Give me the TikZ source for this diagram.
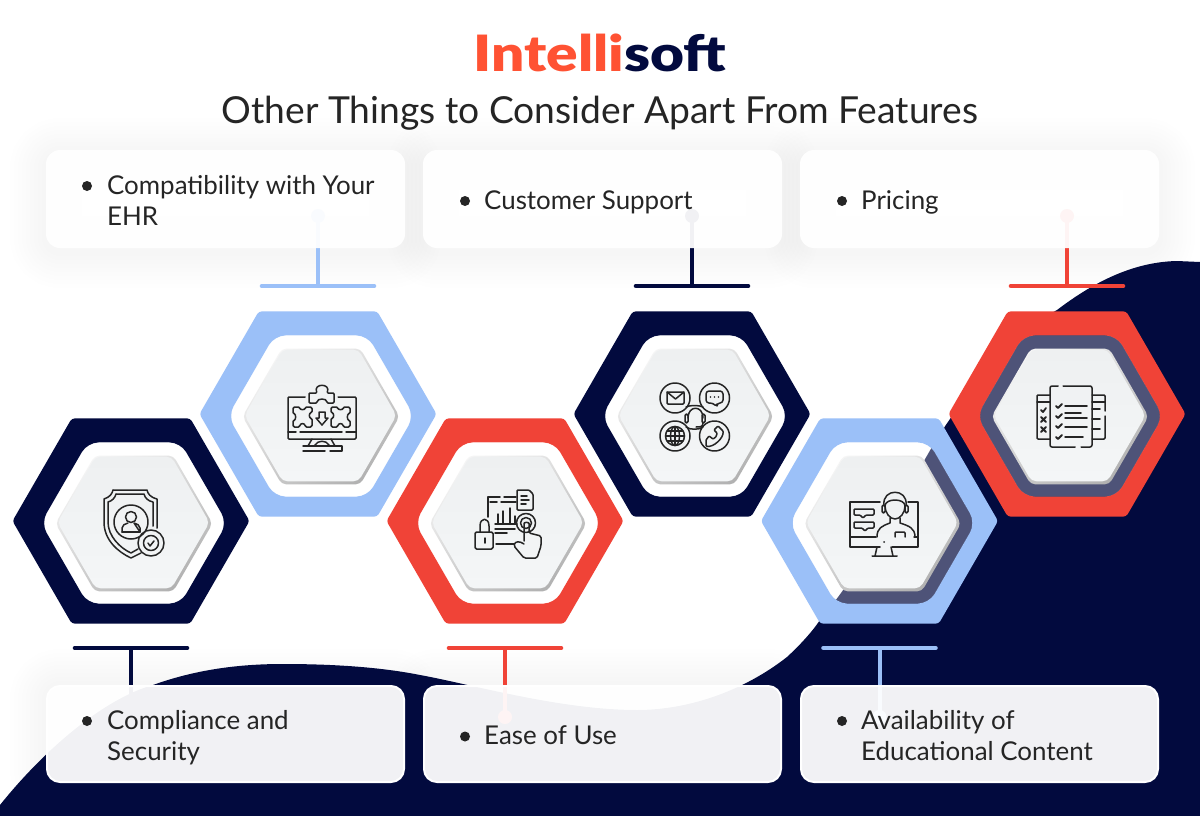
\documentclass[tikz,border=0pt]{standalone}
\usepackage{xcolor}
\usepackage{fontspec}
\setmainfont{Lato}
\newfontfamily\logofont{Lato Black}

\definecolor{inknavy}{HTML}{020A3E}
\definecolor{skyblue}{HTML}{9BC0F8}
\definecolor{hexred}{HTML}{F04337}
\definecolor{logored}{HTML}{FF5233}
\definecolor{inktext}{HTML}{252525}
\definecolor{facetop}{HTML}{EEF0F1}
\definecolor{facelow}{HTML}{F4F6F7}

\newcommand{\hexpath}[3]{({#1+#3},#2) -- ({#1+#3/2},{#2-#3*0.866}) -- ({#1-#3/2},{#2-#3*0.866}) -- ({#1-#3},#2) -- ({#1-#3/2},{#2+#3*0.866}) -- ({#1+#3/2},{#2+#3*0.866}) -- cycle}

\tikzset{
    topbox/.style={minimum width=359pt, minimum height=98pt, inner sep=0pt, rounded corners=14pt, fill=white, fill opacity=0.945},
    lowbox/.style={minimum width=357pt, minimum height=96pt, inner sep=0pt, rounded corners=13pt, draw=white, line width=2pt, fill=white, fill opacity=0.945},
    boxlabel/.style={anchor=west, align=left, inner sep=0pt, text=inktext, font=\fontsize{25.9}{31}\selectfont},
    bulletdot/.style={circle, fill=inktext, minimum size=10pt, inner sep=0pt},
    barline/.style={line width=4.6pt, line cap=round},
    stemline/.style={line width=4pt},
    iconline/.style={draw=inktext, line width=1.5pt, line cap=round, line join=round},
}

\begin{document}
\begin{tikzpicture}[x=1pt, y=-1pt]
    \useasboundingbox (0,0) rectangle (1200,816);
    \fill[white] (0,0) rectangle (1200,816);

    % soft shadows
    \foreach \cx/\cy in {225.5/203, 602.5/203, 979.5/203, 225.5/734, 602.5/734, 979.5/734} {
        \foreach \w in {8,16,...,72} {
            \draw[black, opacity=0.005, line width=\w pt, rounded corners=14pt]
                (\cx-179.5,\cy-49) rectangle (\cx+179.5,\cy+49);
        }
    }

    % blob behind everything
    \fill[inknavy] (0,816) -- (0,805)
        .. controls (40,755) and (100,700) .. (153,685)
        .. controls (200,668) and (245,664) .. (283,664)
        .. controls (340,664) and (385,668) .. (420,675)
        .. controls (470,684) and (560,710) .. (637,710)
        .. controls (690,710) and (745,690) .. (787,657)
        .. controls (800,645) and (812,632) .. (820,620)
        .. controls (850,585) and (890,520) .. (932,447)
        .. controls (960,400) and (1010,335) .. (1057,310)
        .. controls (1090,285) and (1130,262) .. (1177,261)
        -- (1200,262) -- (1200,816) -- cycle;

    % connectors
    \foreach \name/\cx/\ybar/\ytip/\col in {A/131/648/717/inknavy, B/318/286/216/skyblue, C/505/648/717/hexred, D/692/286/216/inknavy, E/879.5/648/717/skyblue, F/1067/286/216/hexred} {
        \coordinate (bar\name) at (\cx,\ybar);
        \coordinate (tip\name) at (\cx,\ytip);
        \coordinate (barl\name) at (\cx-56,\ybar);
        \coordinate (barr\name) at (\cx+56,\ybar);
        \draw[stemline, \col] (bar\name) -- (tip\name);
        \fill[\col] (tip\name) circle(7);
        \draw[barline, \col] (barl\name) -- (barr\name);
    }

    % text boxes
    \node[topbox] (boxB) at (225.5,199) {};
    \node[topbox] (boxD) at (602.5,199) {};
    \node[topbox] (boxF) at (979.5,199) {};
    \node[lowbox] (boxA) at (225.5,734) {};
    \node[lowbox] (boxC) at (602.5,734) {};
    \node[lowbox] (boxE) at (979.5,734) {};

    \node[bulletdot] (dotB) at (87,186) {};
    \node[boxlabel] (textB) at (107,200) {Compatibility with Your\\EHR};
    \node[bulletdot] (dotD) at (465,201) {};
    \node[boxlabel] (textD) at (484,202) {Customer Support};
    \node[bulletdot] (dotF) at (842,201) {};
    \node[boxlabel] (textF) at (861,202) {Pricing};
    \node[bulletdot] (dotA) at (87,721) {};
    \node[boxlabel] (textA) at (107,737.5) {Compliance and\\Security};
    \node[bulletdot] (dotC) at (465,736.5) {};
    \node[boxlabel] (textC) at (484,735) {Ease of Use};
    \node[bulletdot] (dotE) at (842,721) {};
    \node[boxlabel] (textE) at (861,736) {Availability of\\Educational Content};

    % hexagons
    \foreach \name/\cx/\cy/\col in {A/131/521/inknavy, B/318/414/skyblue, C/505/521/hexred, D/692/414/inknavy, E/879.5/521/skyblue, F/1067/414/hexred} {
        \fill[\col, even odd rule, rounded corners=3pt] \hexpath{\cx}{\cy}{118.5}
            [rounded corners=11pt] \hexpath{\cx+3}{\cy+2}{93};
        \fill[white, opacity=0.3, rounded corners=11pt] \hexpath{\cx+3}{\cy+2}{93};
        \shade[rounded corners=5pt, left color=white!96!black, right color=black!30, shading angle=35] \hexpath{\cx+3}{\cy+2.5}{78.5};
        \shade[rounded corners=5pt, top color=facetop, bottom color=facelow] \hexpath{\cx+2.5}{\cy+1.5}{76};
        \coordinate (hex\name) at (\cx,\cy);
    }

    % shield icon
    \draw[iconline] (113,490) -- (147,490) .. controls (148,494) and (150,497) .. (157,499) -- (157,528);
    \draw[iconline] (113,490) .. controls (112,494) and (110,497) .. (104,499) -- (104,522) .. controls (104,540) and (118,552) .. (131,558) -- (141,553);
    \draw[iconline] (116,494) -- (144,494) .. controls (145,498) and (148,501) .. (153,502) -- (153,526);
    \draw[iconline] (116,494) .. controls (115,498) and (112,501) .. (108,502) -- (108,522) .. controls (108,536) and (120,548) .. (131,553) -- (138,549);
    \draw[iconline] (131,522) circle(17);
    \draw[iconline] (131,517) circle(5.5);
    \draw[iconline] (122,532) -- (122,528) .. controls (122,525) and (125,524) .. (128,523) (134,523) .. controls (137,524) and (140,525) .. (140,528) -- (140,532) -- cycle;
    \draw[iconline] (122,532) -- (140,532);
    \draw[iconline] (151,543) circle(13);
    \draw[iconline] (151,543) circle(7.5);
    \draw[iconline] (148,543) -- (150,546) -- (154,541);

    % puzzle monitor icon
    \draw[iconline, rounded corners=1pt] (305,397) -- (288,397) -- (288,439) -- (356,439) -- (356,397) -- (338,397);
    \draw[iconline] (288,432) -- (296,432) (300,432) -- (342,432) (346,432) -- (356,432);
    \draw[iconline] (312,439) -- (308,446) (331,439) -- (335,446);
    \draw[iconline] (303,446) -- (342,446) -- (342,451) -- (330,451) (325,451) -- (303,451) -- cycle;
    \draw[iconline] (315,445) .. controls (318,440) and (326,440) .. (329,445);
    \draw[iconline, rounded corners=1pt] (309,393) -- (317,393) .. controls (313,383) and (331,383) .. (327,393) -- (334,393) -- (334,403) -- (327,403) .. controls (327,398) and (317,398) .. (317,403) -- (309,403) -- cycle;
    \draw[iconline, rounded corners=1.5pt] (293,407) -- (300,407) .. controls (300,410) and (305,410) .. (305,407) -- (312,407) -- (312,413) .. controls (309,413) and (309,418) .. (312,418) -- (312,427) -- (305,427) .. controls (305,423) and (300,423) .. (300,427) -- (293,427) -- (293,420) .. controls (296,420) and (296,414) .. (293,414) -- cycle;
    \draw[iconline, rounded corners=1.5pt] (331,407) -- (338,407) .. controls (338,410) and (343,410) .. (343,407) -- (350,407) -- (350,414) .. controls (347,414) and (347,420) .. (350,420) -- (350,427) -- (343,427) .. controls (343,423) and (338,423) .. (338,427) -- (331,427) -- (331,418) .. controls (334,418) and (334,413) .. (331,413) -- cycle;
    \draw[iconline] (319,412) -- (325,412) -- (325,418) -- (328,418) -- (322,425) -- (316,418) -- (319,418) -- cycle;

    % lock and chart icon
    \draw[iconline] (488,517) -- (488,497) -- (500,497) (504,497) -- (516,497);
    \draw[iconline] (490,502) -- (497,502) (501,502) -- (516,502);
    \draw[iconline, rounded corners=1pt] (517,490) -- (529,490) -- (533,494) -- (533,510) -- (517,510) -- cycle;
    \draw[iconline] (521,496) -- (527,496) (521,500) -- (529,500) (521,504) -- (526,504);
    \draw[iconline] (498,523) -- (498,514) (503,523) -- (503,511) (510,523) -- (510,508) (515,523) -- (515,516);
    \draw[iconline] (495,524) -- (517,524) (495,529) -- (515,529) (495,533) -- (507,533);
    \draw[iconline] (496,544) -- (514,544);
    \draw[iconline, rounded corners=1.5pt] (475,532) -- (493,532) -- (493,549) -- (475,549) -- cycle;
    \draw[iconline] (480,532) -- (480,526) .. controls (480,517) and (489,517) .. (489,526) -- (489,532);
    \draw[iconline] (485,538) -- (485,543);
    \draw[iconline] (526,523) circle(9.5);
    \draw[iconline] (526,523) circle(5.5);
    \draw[iconline, rounded corners=1.5pt] (524,541) -- (524,525) .. controls (524,522) and (529,522) .. (529,525) -- (529,533) -- (541,536) -- (541,546) -- (537,558) -- (524,558) -- (514,546) .. controls (515,541) and (520,541) .. (524,544);

    % support circles icon
    \draw[iconline] (675,398) circle(15);
    \draw[iconline] (714.5,398) circle(15);
    \draw[iconline] (675,436) circle(15);
    \draw[iconline] (714.5,436) circle(15);
    \draw[iconline] (686,407) .. controls (690,405) and (699,405) .. (703,407);
    \draw[iconline] (686,427) .. controls (690,430) and (699,430) .. (703,427);
    \draw[iconline, rounded corners=1pt] (667,392) rectangle (684,404);
    \draw[iconline] (667,392) -- (675.5,399) -- (684,392);
    \draw[iconline, rounded corners=3pt] (706,391) -- (723,391) -- (723,403) -- (717,403) -- (717,407) -- (713,403) -- (706,403) -- cycle;
    \fill[inktext] (710.5,397) circle(0.9) (714.5,397) circle(0.9) (718.5,397) circle(0.9);
    \draw[iconline] (675,436) circle(9.5);
    \draw[iconline] (675,426.5) -- (675,445.5) (665.5,436) -- (684.5,436) (667,431) -- (683,431) (667,441) -- (683,441);
    \draw[iconline] (675,436) ellipse (4.5 and 9.5);
    \draw[iconline, rounded corners=0.8pt] (706,440) -- (709,436) -- (713,439) .. controls (715,438) and (717,436) .. (717,433) -- (714,430) -- (718,426) -- (723,431) .. controls (724,438) and (713,448) .. (706,446) -- cycle;
    \draw[iconline] (688,418) .. controls (688,405) and (703,405) .. (703,418);
    \draw[iconline, rounded corners=1.5pt] (685,414) rectangle (688,423);
    \draw[iconline, rounded corners=1.5pt] (702,414) rectangle (705,423);
    \draw[iconline] (703,423) .. controls (703,427) and (700,427) .. (696,427);

    % person at monitor icon
    \draw[iconline] (880,502) -- (850,502) -- (850,547) -- (880,547) (892,547) -- (918,547) -- (918,502) -- (908,502);
    \draw[iconline] (850,537) -- (876,537) (914,537) -- (918,537);
    \draw[iconline] (877,547) -- (875,556) (891,547) -- (893,556) (872,556) -- (897,556);
    \fill[inktext] (884,542) circle(1);
    \draw[iconline, rounded corners=1pt] (854,509) -- (874,509) -- (874,515) -- (866,515) -- (863,518) -- (860,515) -- (854,515) -- cycle;
    \draw[iconline, rounded corners=1pt] (854,522) -- (874,522) -- (874,528) -- (868,528) -- (865,531) -- (862,528) -- (854,528) -- cycle;
    \draw[iconline] (884,505) .. controls (882,488) and (908,488) .. (906,505);
    \draw[iconline] (885,506) .. controls (885,498) and (905,498) .. (905,506) .. controls (905,513) and (900,519) .. (895,519) .. controls (890,519) and (885,513) .. (885,506);
    \draw[iconline, rounded corners=1.5pt] (882,505) rectangle (885,513);
    \draw[iconline, rounded corners=1.5pt] (905,505) rectangle (908,513);
    \draw[iconline] (890,518) -- (890,523) .. controls (882,526) and (877,528) .. (877,537);
    \draw[iconline] (900,518) -- (900,523) .. controls (909,526) and (915,528) .. (915,537);
    \draw[iconline, rounded corners=1pt] (895,537) -- (895,532) -- (905,532) -- (905,537);

    % checklist icon
    \draw[iconline, rounded corners=2pt] (1058,386) -- (1050,386) -- (1050,447) -- (1075,447) (1081,447) -- (1092,447) -- (1092,386) -- (1063,386);
    \draw[iconline, rounded corners=1pt] (1050,395) -- (1037,395) -- (1037,439) -- (1050,439);
    \draw[iconline, rounded corners=1pt] (1092,395) -- (1105,395) -- (1105,411) (1105,416) -- (1105,439) -- (1092,439);
    \draw[iconline] (1037,402) -- (1050,402) (1092,402) -- (1105,402);
    \draw[iconline] (1092,409) -- (1100,409) (1092,419) -- (1100,419) (1092,429) -- (1100,429);
    \foreach \y in {406,416,426,437} {
        \draw[iconline, line width=1.8pt] (1056,\y) -- (1058,{\y+2}) -- (1062,{\y-2});
    }
    \draw[iconline] (1065,406) -- (1087,406) (1065,413) -- (1081,413) (1065,418) -- (1087,418) (1065,427) -- (1087,427) (1065,437) -- (1083,437);
    \draw[iconline, line width=1.8pt] (1041,410) -- (1043,412) -- (1046,408);
    \draw[iconline, line width=1.8pt] (1041,417) -- (1046,422) (1046,417) -- (1041,422);
    \draw[iconline, line width=1.8pt] (1041,427) -- (1046,432) (1046,427) -- (1041,432);

    % heading
    \node[anchor=base, inner sep=0pt, transform shape, xscale=1.17] (logo) at (600,71) {\logofont\fontsize{50}{50}\selectfont\textcolor{logored}{Intelli}\textcolor{inknavy}{soft}};
    \node[anchor=base, inner sep=0pt, text=inktext] (heading) at (600,123.5) {\fontsize{37.2}{44}\selectfont Other Things to Consider Apart From Features};
\end{tikzpicture}
\end{document}
